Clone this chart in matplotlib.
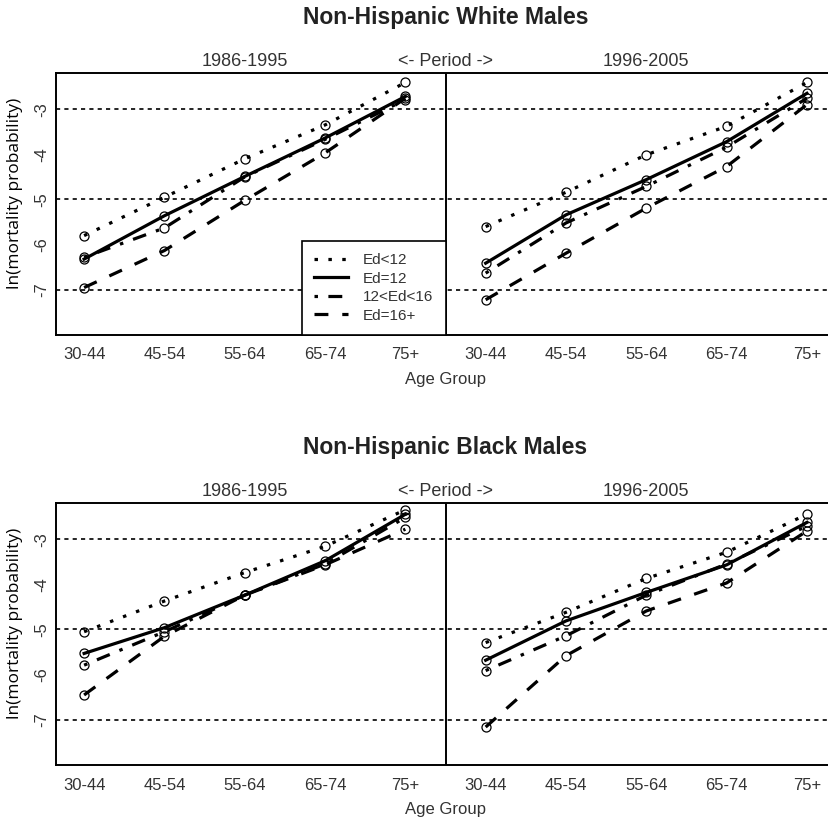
import matplotlib
matplotlib.use("Agg")
import matplotlib.pyplot as plt
import matplotlib.transforms as mtransforms
from matplotlib.lines import Line2D

plt.rcParams['font.family'] = ['Liberation Sans', 'DejaVu Sans']
plt.rcParams['lines.scale_dashes'] = False

ages = ["30-44", "45-54", "55-64", "65-74", "75+"]
periods = ["1986-1995", "1996-2005"]
education = ["Ed<12", "Ed=12", "12<Ed<16", "Ed=16+"]

# ln(mortality probability), rows follow `education`
white_8695 = [[-5.80, -4.95, -4.10, -3.35, -2.41],
              [-6.32, -5.36, -4.49, -3.64, -2.72],
              [-6.28, -5.63, -4.50, -3.67, -2.79],
              [-6.95, -6.13, -5.02, -3.97, -2.76]]
white_9605 = [[-5.60, -4.84, -4.01, -3.38, -2.41],
              [-6.41, -5.34, -4.56, -3.72, -2.65],
              [-6.63, -5.52, -4.71, -3.84, -2.76],
              [-7.22, -6.19, -5.19, -4.27, -2.90]]
black_8695 = [[-5.05, -4.37, -3.74, -3.16, -2.35],
              [-5.53, -4.96, -4.24, -3.48, -2.45],
              [-5.79, -5.05, -4.24, -3.55, -2.52],
              [-6.45, -5.15, -4.24, -3.57, -2.78]]
black_9605 = [[-5.29, -4.62, -3.87, -3.29, -2.45],
              [-5.68, -4.81, -4.18, -3.57, -2.63],
              [-5.91, -5.14, -4.24, -3.55, -2.71],
              [-7.16, -5.58, -4.59, -3.97, -2.82]]

panels = [("Non-Hispanic White Males", white_8695, white_9605),
          ("Non-Hispanic Black Males", black_8695, black_9605)]

# R style line types: dotted, solid, dotdash, dashed
line_styles = [(0, (2.5, 7.5)), '-', (0, (2.5, 7.5, 10, 7.5)), (0, (10, 10))]
text_col = '#333333'

fig = plt.figure(figsize=(8.29, 8.25), dpi=100)
axes_pos = [[56 / 829, 1 - 335 / 825, 773 / 829, 262 / 825],
            [56 / 829, 1 - 765 / 825, 773 / 829, 262 / 825]]

for (title, early, late), pos in zip(panels, axes_pos):
    ax = fig.add_axes(pos)
    xs_early = list(range(1, 6))
    xs_late = list(range(6, 11))
    for i in range(len(education)):
        for xs, vals in ((xs_early, early[i]), (xs_late, late[i])):
            ax.plot(xs, vals, color='black', lw=2.3, linestyle=line_styles[i],
                    marker='o', ms=6.5, mfc='none', mec='black', mew=0.9)

    for yv in (-3, -5, -7):
        ax.axhline(yv, color='black', lw=1.2, linestyle=(0, (3, 3)), zorder=0)
    ax.axvline(5.5, color='black', lw=1.4)

    ax.set_xlim(0.65, 10.275)
    ax.set_ylim(-8.0, -2.2)
    ax.set_xticks(xs_early + xs_late)
    ax.set_xticklabels(ages + ages)
    ax.set_yticks([-7, -6, -5, -4, -3])
    ax.set_yticklabels(['-7', '-6', '-5', '-4', '-3'], rotation=90, va='center')
    ax.tick_params(length=0, labelsize=12, colors=text_col)
    ax.tick_params(axis='x', pad=9)
    ax.tick_params(axis='y', pad=5)
    for s in ax.spines.values():
        s.set_linewidth(1.4)
    ax.spines['right'].set_visible(False)

    trans = mtransforms.blended_transform_factory(ax.transData, ax.transAxes)
    ax.text(5.5, 1.21, title, transform=trans, ha='center', va='center',
            fontsize=16.5, fontweight='bold', color='#222222')
    ax.text(3, 1.042, periods[0], transform=trans, ha='center', va='center',
            fontsize=13, color=text_col)
    ax.text(5.5, 1.042, "<- Period ->", transform=trans, ha='center', va='center',
            fontsize=13, color=text_col)
    ax.text(8, 1.042, periods[1], transform=trans, ha='center', va='center',
            fontsize=13, color=text_col)
    ax.text(5.5, -0.17, "Age Group", transform=trans, ha='center', va='center',
            fontsize=12, color=text_col)
    ax.text(15 / 829, 0.54, "ln(mortality probability)", transform=mtransforms.blended_transform_factory(fig.transFigure, ax.transAxes),
            rotation=90, ha='center', va='center', fontsize=12.5,
            family=['Open Sans', 'DejaVu Sans'], color='black')

    if title.startswith("Non-Hispanic White"):
        handles = [Line2D([0], [0], color='black', lw=2.3, linestyle=ls) for ls in line_styles]
        leg = ax.legend(handles, education, loc='lower right',
                        bbox_to_anchor=((5.5 - 0.65) / (10.275 - 0.65), 0.0),
                        borderaxespad=0, fancybox=False, framealpha=1,
                        edgecolor='black', fontsize=11, handlelength=2.2,
                        handletextpad=1.0, labelspacing=0.3, borderpad=0.8)
        leg.get_frame().set_linewidth(1.2)
        for t in leg.get_texts():
            t.set_color(text_col)

fig.savefig("out.png", dpi=100)
